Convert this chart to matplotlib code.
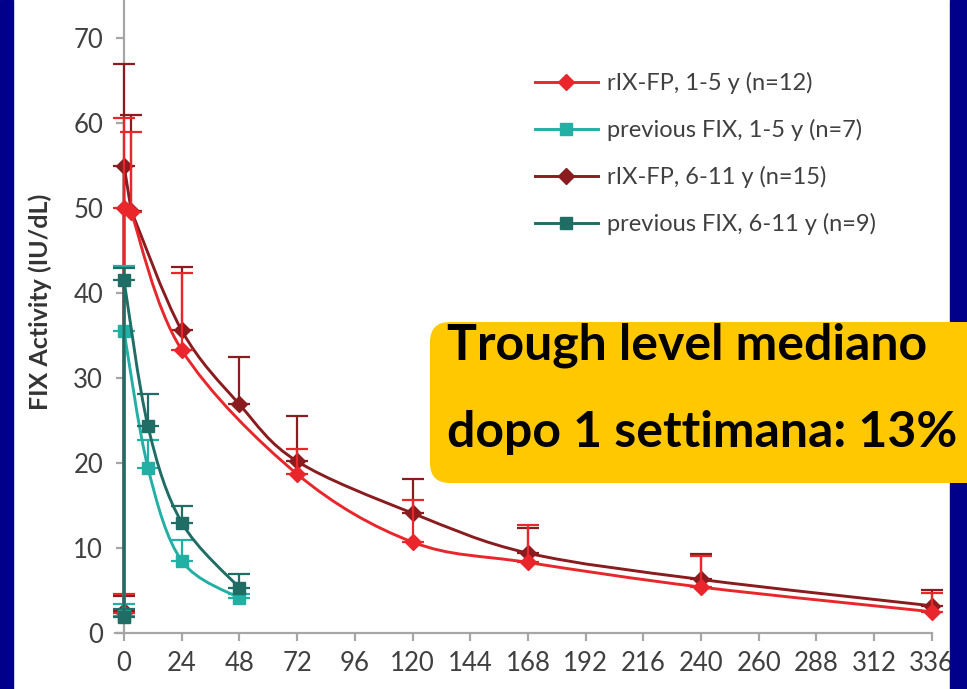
import matplotlib
matplotlib.use('Agg')
import matplotlib.pyplot as plt
from matplotlib.path import Path
from matplotlib.patches import PathPatch, FancyBboxPatch, Rectangle
from matplotlib.lines import Line2D
import numpy as np

# ---- data (hours, FIX activity IU/dL) ----
x_ticks = [0, 24, 48, 72, 96, 120, 144, 168, 192, 216, 240, 264, 288, 312, 336]
x_tick_labels = ['0', '24', '48', '72', '96', '120', '144', '168', '192',
                 '216', '240', '260', '288', '312', '336']
y_ticks = [0, 10, 20, 30, 40, 50, 60, 70]

rixfp_1_5_t = [0, 0, 3, 24, 72, 120, 168, 240, 336]
rixfp_1_5_y = [2.4, 50.0, 49.5, 33.3, 18.7, 10.7, 8.3, 5.4, 2.5]
rixfp_1_5_up = [4.6, 60.6, 59.0, 42.4, 21.7, 15.7, 12.7, 9.1, 4.7]

rixfp_6_11_t = [0, 0, 3, 24, 48, 72, 120, 168, 240, 336]
rixfp_6_11_y = [2.6, 55.0, 49.7, 35.6, 26.9, 20.2, 14.1, 9.4, 6.3, 3.2]
rixfp_6_11_up = [4.3, 67.0, 61.0, 43.1, 32.5, 25.5, 18.1, 12.4, 9.3, 5.1]

prev_1_5_t = [0, 0, 10, 24, 48]
prev_1_5_y = [2.0, 35.5, 19.4, 8.5, 4.1]
prev_1_5_up = [3.4, 43.2, 22.7, 10.9, 4.6]

prev_6_11_t = [0, 0, 10, 24, 48]
prev_6_11_y = [1.9, 41.5, 24.3, 13.0, 5.3]
prev_6_11_up = [2.8, 43.0, 28.1, 15.0, 6.9]

labels = ['rIX-FP, 1-5 y (n=12)', 'previous FIX, 1-5 y (n=7)',
          'rIX-FP, 6-11 y (n=15)', 'previous FIX, 6-11 y (n=9)']

RED = '#E8262B'
DARKRED = '#8A1B1E'
TEAL = '#22AFA4'
DARKTEAL = '#1F6D64'
AXIS_GREY = '#A6A6A6'
TEXT_GREY = '#404040'

plt.rcParams['font.family'] = ['Lato', 'DejaVu Sans']


def smooth_path(xs, ys, n_straight):
    # straight segments for the first points, then smoothed (Catmull-Rom) curve
    pts = np.column_stack([xs, ys]).astype(float)
    verts = [pts[0]]
    codes = [Path.MOVETO]
    for i in range(1, n_straight):
        verts.append(pts[i])
        codes.append(Path.LINETO)
    cur = pts[n_straight - 1:]
    n = len(cur)
    for i in range(n - 1):
        p0 = cur[max(i - 1, 0)]
        p1 = cur[i]
        p2 = cur[i + 1]
        p3 = cur[min(i + 2, n - 1)]
        verts += [p1 + (p2 - p0) / 6, p2 - (p3 - p1) / 6, p2]
        codes += [Path.CURVE4] * 3
    return Path(verts, codes)


def draw_series(ax, t, y, up, color, marker, n_straight, z):
    t = np.array(t, dtype=float)
    y = np.array(y, dtype=float)
    up = np.array(up, dtype=float)
    patch = PathPatch(smooth_path(t, y, n_straight), fill=False,
                      edgecolor=color, lw=2.1, zorder=z, clip_on=False)
    ax.add_patch(patch)
    cont = ax.errorbar(t, y, yerr=[np.zeros_like(y), up - y], fmt=marker,
                       color=color, ms=8, elinewidth=1.6, capsize=8,
                       capthick=1.6, zorder=z + 0.5)
    for art in cont.get_children():
        art.set_clip_on(False)


W, H = 967, 689
fig = plt.figure(figsize=(W / 100, H / 100), dpi=100)
fig.patch.set_facecolor('white')

# pixel geometry of the plot area
px0, px_per_h = 124, 57.7 / 24
py0, py_per_unit = 633, 8.5
xlo, xhi = -3.7, 345
ylo, yhi = 0, py0 / py_per_unit
left = (px0 + xlo * px_per_h) / W
width = (xhi - xlo) * px_per_h / W
bottom = (H - py0) / H
ax = fig.add_axes([left, bottom, width, 1 - bottom])
ax.patch.set_visible(False)
ax.set_xlim(xlo, xhi)
ax.set_ylim(ylo, yhi)

draw_series(ax, rixfp_6_11_t, rixfp_6_11_y, rixfp_6_11_up, DARKRED, 'D', 3, 3)
draw_series(ax, rixfp_1_5_t, rixfp_1_5_y, rixfp_1_5_up, RED, 'D', 3, 4)
draw_series(ax, prev_1_5_t, prev_1_5_y, prev_1_5_up, TEAL, 's', 2, 5)
draw_series(ax, prev_6_11_t, prev_6_11_y, prev_6_11_up, DARKTEAL, 's', 2, 6)

# axes styling
for side in ['top', 'right']:
    ax.spines[side].set_visible(False)
ax.spines['left'].set_position(('data', 0))
ax.spines['bottom'].set_bounds(xlo, 336)
for side in ['left', 'bottom']:
    ax.spines[side].set_color(AXIS_GREY)
    ax.spines[side].set_linewidth(1.6)
ax.set_xticks(x_ticks)
ax.set_xticklabels(x_tick_labels)
ax.set_yticks(y_ticks)
ax.tick_params(axis='both', colors=AXIS_GREY, length=6, width=1.6,
               labelsize=18.5, labelcolor=TEXT_GREY)
ax.tick_params(axis='y', pad=9)
ax.tick_params(axis='x', pad=7)

fig.text(40 / W, 1 - 302 / H, 'FIX Activity (IU/dL)', rotation=90,
         ha='center', va='center', fontsize=18, fontweight='bold',
         color='#333333')

# legend
handles = [Line2D([], [], color=RED, marker='D', ms=8, lw=2.1),
           Line2D([], [], color=TEAL, marker='s', ms=8, lw=2.1),
           Line2D([], [], color=DARKRED, marker='D', ms=8, lw=2.1),
           Line2D([], [], color=DARKTEAL, marker='s', ms=8, lw=2.1)]
leg = fig.legend(handles, labels, loc='upper left',
                 bbox_to_anchor=(535 / W, 1 - 72 / H), frameon=False,
                 fontsize=17, handlelength=2.65, handletextpad=0.38,
                 labelspacing=1.06, borderpad=0, borderaxespad=0)
for txt in leg.get_texts():
    txt.set_color(TEXT_GREY)

# blue slide borders
fig.patches.append(Rectangle((0, 0), 13 / W, 1, transform=fig.transFigure,
                             color='#00008A', zorder=1))
fig.patches.append(Rectangle((950 / W, 0), 17 / W, 1,
                             transform=fig.transFigure, color='#00008A',
                             zorder=1))

# yellow call-out box
box = FancyBboxPatch((4.30, (H - 483) / 100), 5.6, 1.61,
                     boxstyle='round,pad=0,rounding_size=0.2',
                     transform=fig.dpi_scale_trans, facecolor='#FFC800',
                     edgecolor='none', zorder=10)
fig.patches.append(box)
fig.text(4.47, (H - 360) / 100, 'Trough level mediano', ha='left',
         va='baseline', fontsize=36, fontweight='bold', color='black',
         transform=fig.dpi_scale_trans, zorder=11)
fig.text(4.47, (H - 447) / 100, 'dopo 1 settimana: 13%', ha='left',
         va='baseline', fontsize=36, fontweight='bold', color='black',
         transform=fig.dpi_scale_trans, zorder=11)

fig.savefig('out.png', dpi=100)
